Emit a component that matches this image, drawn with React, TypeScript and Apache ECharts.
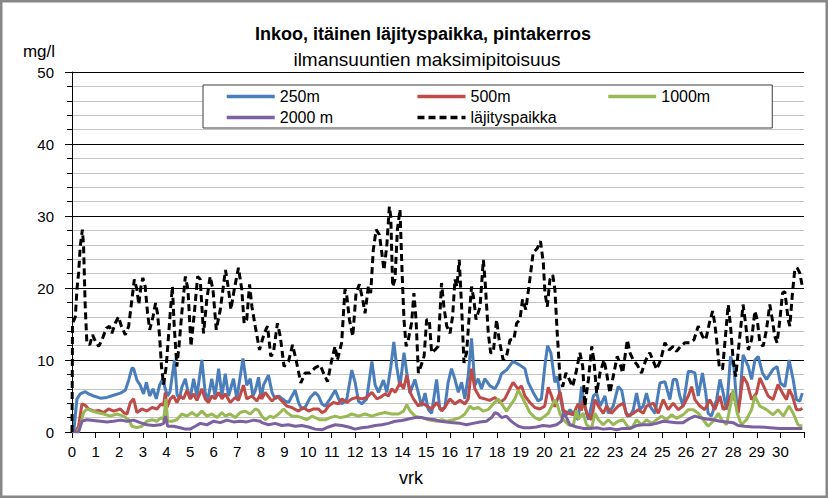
import React, { useEffect, useRef } from 'react';
import * as echarts from 'echarts';

const FONT = "'Liberation Sans', Arial, sans-serif";

const seriesNames = ['250m', '500m', '1000m', '2000 m', 'läjityspaikka'];
const yTicks = [0, 10, 20, 30, 40, 50];
const dayLabels = Array.from({ length: 31 }, (_, i) => String(i));

// [day, mg/l]
const s250: [number, number][] = [
  [0.07,0],[0.21,4.6],[0.35,5.3],[0.56,5.6],[0.70,5.3],[0.92,5.0],[1.20,4.7],[1.48,4.8],[1.76,5.1],[2.05,5.4],[2.26,5.8],[2.40,7.2],[2.54,8.9],[2.61,8.8],[2.75,7.2],[2.89,6.5],[3.03,5.3],[3.15,6.9],[3.29,5.0],[3.43,6.0],[3.57,4.6],[3.71,6.5],[3.85,7.4],[3.95,6.0],[4.05,5.0],[4.15,5.6],[4.34,10.0],[4.45,5.2],[4.55,4.6],[4.65,6.2],[4.80,7.4],[4.90,5.8],[5.00,4.6],[5.15,7.4],[5.29,5.0],[5.50,10.0],[5.64,5.5],[5.74,4.3],[5.92,7.4],[6.06,5.0],[6.21,8.8],[6.35,5.0],[6.49,8.1],[6.63,5.0],[6.84,7.4],[6.98,4.6],[7.24,10.2],[7.40,6.5],[7.55,7.4],[7.66,5.0],[7.76,5.7],[7.90,7.6],
  [8.01,4.6],[8.11,6.5],[8.32,7.9],[8.47,5.5],[8.6,4.6],[8.75,5.0],[9.03,4.3],[9.17,4.1],[9.45,5.8],[9.59,4.1],[9.73,3.2],[9.87,3.4],[10.09,4.8],[10.3,5.5],[10.44,5.0],[10.58,3.9],[10.72,3.6],[10.93,4.6],[11.15,5.8],[11.29,4.6],[11.43,3.9],[11.64,4.6],[11.85,8.6],[11.99,6.9],[12.13,4.3],[12.27,3.9],[12.48,4.6],[12.7,9.8],[12.84,6.5],[12.98,5.5],[13.19,7.2],[13.33,5.5],[13.5,9.0],[13.63,12.5],[13.75,9.1],[13.89,6.3],[14.06,11.0],[14.17,8.4],[14.31,5.4],[14.52,7.3],[14.67,5.4],[14.81,3.6],[14.95,5.4],[15.09,3.1],[15.23,2.6],[15.44,7.3],[15.58,3.1],[15.79,3.4],[15.93,6.9],[16.07,8.8],[16.21,7.4],[16.36,5.5],[16.5,6.9],[16.64,4.6],[16.78,7.9],[16.92,13.0],[17.06,6.5],[17.2,7.4],[17.34,6.0],[17.48,7.4],[17.7,6.4],[17.91,6.0],[18.05,6.8],[18.19,8.1],[18.4,8.6],[18.68,9.8],[18.96,9.3],[19.18,8.8],[19.32,6.9],[19.53,5.5],[19.74,4.3],[19.88,4.6],[20.03,9.3],[20.14,12.0],[20.28,11.0],[20.45,6.9],[20.55,7.7],[20.65,5.4],[20.81,2.6],[20.95,2.4],[21.09,3.1],[21.23,2.6],[21.44,1.7],[21.58,6.3],[21.72,3.6],[21.87,1.7],[22.08,5.0],[22.22,5.4],[22.36,3.6],[22.57,5.0],[22.71,2.6],[22.92,3.6],[23.13,6.3],[23.28,5.8],[23.46,2.6],[23.63,2.2],[23.77,3.1],[23.91,5.4],[24.05,3.1],[24.19,3.6],[24.33,5.4],[24.47,3.6],[24.69,2.6],[24.9,6.8],[25.11,7.0],[25.32,4.5],[25.46,7.3],[25.6,7.3],[25.74,5.0],[25.88,3.6],[26.1,8.4],[26.24,8.4],[26.38,8.2],[26.52,5.0],[26.7,8.2],[26.84,5.4],[26.94,2.6],[27.08,2.2],[27.3,4.5],[27.44,7.3],[27.58,5.4],[27.72,3.1],[27.89,10.5],[28.03,9.1],[28.17,3.1],[28.28,4.5],[28.42,10.7],[28.64,9.1],[28.78,7.3],[28.92,10.0],[29.06,10.5],[29.24,8.2],[29.41,7.3],[29.69,8.7],[29.86,9.1],[30.0,6.8],[30.19,6.3],[30.37,10.0],[30.54,7.3],[30.68,4.5],[30.82,4.3],[30.93,5.4]
];

const s500: [number, number][] = [
  [0.14,0],[0.28,0.8],[0.42,3.9],[0.56,3.7],[0.70,3.2],[0.92,2.9],[1.13,3.0],[1.34,2.7],[1.55,3.2],[1.76,2.9],[2.05,3.2],[2.19,2.7],[2.33,2.5],[2.47,4.1],[2.61,4.6],[2.75,2.7],[2.96,3.2],[3.17,2.9],[3.39,3.4],[3.6,3.2],[3.77,3.9],[3.88,3.7],[3.95,5.5],[4.02,3.4],[4.16,4.6],[4.3,5.0],[4.44,4.1],[4.58,5.0],[4.72,4.6],[4.87,5.8],[5.01,4.6],[5.15,5.3],[5.29,4.4],[5.5,6.0],[5.64,4.6],[5.78,4.1],[5.92,5.0],[6.06,4.6],[6.21,5.5],[6.35,4.6],[6.49,5.3],[6.7,4.1],[6.91,4.8],[7.05,4.4],[7.26,6.5],[7.4,4.6],[7.62,5.0],[7.83,4.3],[7.97,5.2],[8.04,4.6],[8.18,5.5],[8.39,4.6],[8.47,4.3],[8.68,5.0],[8.89,4.3],[9.1,3.6],[9.31,3.4],[9.59,2.9],[9.8,3.4],[10.02,2.9],[10.23,3.2],[10.44,3.2],[10.58,2.7],[10.72,2.9],[10.86,3.6],[11.07,4.1],[11.29,3.9],[11.43,4.6],[11.64,4.1],[11.85,4.6],[12.06,4.8],[12.27,4.6],[12.48,4.8],[12.7,5.5],[12.91,4.6],[13.05,4.8],[13.26,5.3],[13.4,5.0],[13.54,6.0],[13.69,5.5],[13.9,6.9],[14.04,6.0],[14.18,7.9],[14.32,5.5],[14.46,4.6],[14.67,3.6],[14.81,4.1],[15.02,3.6],[15.24,3.2],[15.45,4.1],[15.66,2.9],[15.79,3.4],[16.0,4.6],[16.21,3.9],[16.43,4.4],[16.64,3.9],[16.78,4.6],[16.92,8.8],[17.06,6.0],[17.27,4.8],[17.48,4.6],[17.69,4.4],[17.91,4.8],[18.12,4.1],[18.33,4.6],[18.54,6.0],[18.68,6.9],[18.89,6.0],[19.04,6.4],[19.18,5.0],[19.39,4.1],[19.6,3.4],[19.81,3.2],[20.02,3.6],[20.17,6.2],[20.31,5.0],[20.45,3.5],[20.67,5.6],[20.81,3.0],[21.02,2.6],[21.23,2.4],[21.43,3.9],[21.58,3.0],[21.65,4.5],[21.8,2.6],[22.0,1.7],[22.15,4.5],[22.29,3.6],[22.5,2.6],[22.64,3.6],[22.85,2.6],[23.13,3.6],[23.34,4.0],[23.52,2.2],[23.77,2.6],[23.98,3.1],[24.19,2.6],[24.33,3.6],[24.62,4.0],[24.83,2.6],[25.04,4.5],[25.25,3.1],[25.46,4.0],[25.67,3.1],[25.88,3.6],[26.1,5.0],[26.24,6.3],[26.38,4.5],[26.59,3.6],[26.8,3.1],[27.01,4.5],[27.22,3.1],[27.44,5.0],[27.58,3.1],[27.75,3.6],[27.93,5.4],[28.07,4.5],[28.21,2.6],[28.42,7.7],[28.59,6.8],[28.78,4.5],[28.99,5.4],[29.13,7.5],[29.3,6.3],[29.48,5.0],[29.69,4.5],[29.9,6.6],[30.09,5.4],[30.26,4.5],[30.37,5.9],[30.51,5.0],[30.68,3.1],[30.85,3.1],[30.93,3.3]
];

const s1000: [number, number][] = [
  [0.21,0],[0.35,0.8],[0.49,2.7],[0.63,3.2],[0.85,2.9],[1.06,2.7],[1.34,2.5],[1.62,2.2],[1.9,2.5],[2.19,2.2],[2.4,1.7],[2.54,0.8],[2.75,0.6],[2.96,0.8],[3.17,1.5],[3.39,1.7],[3.6,1.5],[3.77,2.0],[3.88,1.7],[3.98,4.6],[4.05,1.5],[4.23,1.5],[4.44,1.7],[4.65,2.5],[4.87,2.2],[5.08,2.7],[5.29,2.2],[5.5,2.9],[5.71,2.2],[5.92,2.5],[6.14,2.0],[6.35,2.7],[6.49,2.2],[6.7,2.5],[6.91,2.0],[7.12,2.7],[7.33,2.9],[7.55,2.5],[7.76,3.2],[7.9,3.0],[8.04,2.2],[8.18,1.7],[8.39,2.2],[8.54,2.0],[8.75,2.5],[8.96,3.2],[9.1,2.7],[9.31,2.2],[9.52,2.2],[9.73,2.0],[9.95,1.7],[10.16,2.2],[10.3,2.0],[10.51,1.7],[10.72,1.7],[10.93,2.0],[11.15,2.2],[11.36,2.0],[11.64,2.2],[11.85,2.5],[12.13,2.2],[12.41,2.5],[12.7,2.2],[12.98,2.5],[13.26,2.7],[13.54,2.5],[13.83,2.5],[14.04,2.9],[14.18,3.8],[14.32,2.9],[14.53,2.2],[14.81,2.0],[15.1,1.7],[15.45,1.5],[15.66,1.7],[15.86,1.5],[16.15,1.7],[16.43,2.0],[16.64,2.5],[16.85,3.6],[16.99,3.2],[17.2,3.4],[17.41,2.9],[17.62,3.1],[17.84,3.9],[18.05,4.6],[18.26,3.6],[18.4,2.9],[18.61,3.9],[18.75,4.6],[18.9,5.8],[19.04,5.0],[19.18,4.1],[19.39,2.7],[19.6,2.0],[19.81,1.7],[20.02,2.2],[20.17,2.6],[20.3,3.5],[20.45,4.5],[20.55,3.8],[20.67,2.5],[20.81,1.7],[21.02,1.0],[21.23,0.9],[21.36,3.0],[21.45,1.8],[21.65,2.6],[21.79,1.0],[22.0,0.5],[22.15,2.6],[22.29,1.7],[22.5,1.0],[22.71,1.7],[22.92,1.0],[23.13,1.5],[23.34,1.7],[23.52,0.8],[23.7,0.5],[23.91,1.7],[24.12,1.0],[24.33,1.7],[24.55,1.2],[24.76,1.7],[24.97,2.2],[25.18,1.7],[25.39,2.4],[25.6,1.9],[25.88,2.4],[26.1,3.1],[26.31,3.1],[26.52,2.6],[26.73,1.7],[26.94,0.8],[27.15,1.5],[27.37,2.6],[27.51,1.7],[27.72,1.0],[27.9,4.0],[28.0,5.9],[28.17,2.6],[28.35,1.0],[28.56,1.7],[28.78,3.1],[28.92,5.0],[29.13,3.6],[29.41,3.1],[29.69,2.4],[29.9,3.1],[30.12,2.2],[30.37,3.6],[30.54,2.6],[30.75,1.0],[30.93,0.8]
];

const s2000: [number, number][] = [
  [0,0],[0.28,0],[0.42,1.5],[0.63,1.7],[0.92,1.6],[1.2,1.5],[1.48,1.4],[1.76,1.5],[2.05,1.65],[2.33,1.5],[2.61,1.65],[2.89,1.3],[3.17,1.0],[3.46,0.9],[3.74,1.0],[3.88,1.2],[3.96,2.2],[4.05,0.8],[4.3,0.8],[4.58,0.6],[4.8,0.4],[5.0,0.4],[5.22,0.8],[5.43,1.2],[5.71,1.0],[6.0,1.5],[6.28,1.3],[6.56,1.65],[6.84,1.4],[7.12,1.5],[7.4,1.4],[7.69,1.65],[7.97,1.5],[8.04,1.3],[8.32,1.0],[8.6,1.2],[8.89,0.9],[9.17,1.0],[9.45,0.8],[9.73,0.9],[10.02,0.7],[10.3,0.4],[10.58,0.3],[10.86,0.7],[11.15,1.0],[11.43,0.9],[11.71,0.7],[11.99,0.4],[12.27,0.6],[12.55,0.7],[12.84,0.9],[13.12,1.0],[13.4,1.2],[13.69,1.5],[13.97,1.6],[14.25,1.8],[14.53,2.0],[14.81,2.0],[15.1,1.8],[15.38,1.7],[15.58,1.5],[15.86,1.4],[16.15,1.3],[16.43,1.2],[16.71,1.0],[16.99,1.2],[17.27,1.4],[17.55,1.5],[17.77,2.0],[17.91,2.7],[18.05,2.5],[18.19,2.0],[18.4,2.2],[18.54,1.7],[18.68,1.3],[18.9,0.8],[19.11,0.6],[19.39,0.6],[19.67,0.7],[19.95,0.9],[20.24,0.8],[20.52,1.0],[20.73,1.5],[20.81,2.6],[20.94,2.0],[21.09,1.0],[21.37,0.7],[21.65,0.5],[21.93,0.5],[22.22,0.6],[22.5,0.4],[22.78,0.5],[23.06,0.3],[23.34,0.5],[23.63,0.5],[23.91,0.9],[24.19,1.0],[24.47,1.0],[24.76,1.2],[25.04,1.5],[25.32,1.4],[25.6,1.3],[25.88,1.3],[26.17,1.9],[26.38,2.2],[26.59,2.0],[26.87,1.8],[27.15,1.7],[27.44,1.5],[27.72,1.4],[28.0,1.3],[28.21,0.9],[28.49,0.8],[28.85,0.7],[29.13,0.7],[29.55,0.6],[29.98,0.5],[30.4,0.5],[30.93,0.5]
];

const sLaji: [number, number][] = [
  [0.0,0],[0.02,15.1],[0.14,16.0],[0.21,19.8],[0.28,22.1],[0.35,25.8],[0.44,28.1],[0.49,25.8],[0.56,17.4],[0.63,12.4],[0.75,12.1],[0.87,13.5],[0.99,12.6],[1.13,11.9],[1.27,12.8],[1.45,14.4],[1.59,14.7],[1.69,13.7],[1.83,15.1],[1.97,16.0],[2.09,14.7],[2.26,13.5],[2.4,14.7],[2.5,17.4],[2.64,21.2],[2.75,19.8],[2.83,17.7],[2.92,20.2],[3.0,21.4],[3.1,20.2],[3.2,16.5],[3.29,14.2],[3.43,16.0],[3.54,17.9],[3.62,16.5],[3.71,13.3],[3.79,9.1],[3.88,6.6],[3.99,9.1],[4.16,16.5],[4.25,20.2],[4.33,14.7],[4.44,9.1],[4.53,11.9],[4.65,16.5],[4.8,21.6],[4.91,19.8],[5.04,11.9],[5.18,16.5],[5.32,21.6],[5.43,21.2],[5.57,13.7],[5.71,18.4],[5.85,21.6],[5.97,19.8],[6.11,14.2],[6.28,17.0],[6.5,22.5],[6.63,19.8],[6.73,17.0],[6.87,19.8],[7.05,22.8],[7.19,19.8],[7.29,15.1],[7.4,15.6],[7.52,20.5],[7.62,17.4],[7.76,14.7],[7.94,11.4],[8.14,13.7],[8.28,14.7],[8.42,10.5],[8.53,11.0],[8.7,15.1],[8.82,13.3],[8.98,9.1],[9.17,9.8],[9.34,12.1],[9.49,10.0],[9.69,6.8],
  [9.87,8.2],[10.08,8.2],[10.29,8.9],[10.51,9.3],[10.65,8.2],[10.82,7.0],[11.0,10.0],[11.14,11.9],[11.24,10.0],[11.42,12.4],[11.56,19.8],[11.63,19.1],[11.75,15.6],[11.89,13.3],[12.03,19.3],[12.17,20.5],[12.31,18.4],[12.41,16.5],[12.55,20.2],[12.65,19.3],[12.76,25.3],[12.88,28.1],[13.02,27.4],[13.12,24.9],[13.21,22.5],[13.33,25.8],[13.44,31.3],[13.5,29.9],[13.58,20.2],[13.68,21.2],[13.78,28.1],[13.89,30.9],[13.98,22.1],[14.06,15.6],[14.15,11.9],[14.24,12.8],[14.38,15.1],[14.48,19.3],[14.57,15.6],[14.67,8.2],[14.77,9.1],[14.91,10.5],[15.02,15.6],[15.13,15.6],[15.23,11.0],[15.37,11.4],[15.51,11.9],[15.65,20.7],[15.75,17.4],[15.87,14.7],[16.01,13.7],[16.12,16.1],[16.22,21.2],[16.3,20.2],[16.4,23.9],[16.5,17.4],[16.6,9.6],[16.71,11.0],[16.83,16.5],[16.92,20.2],[17.02,18.4],[17.11,15.6],[17.28,17.4],[17.42,23.9],[17.49,21.2],[17.63,13.7],[17.73,11.0],[17.84,11.0],[17.98,15.6],[18.09,12.8],[18.26,10.0],[18.4,10.5],[18.55,12.8],[18.71,12.8],[18.83,15.1],[18.97,15.6],[19.08,18.4],[19.22,17.0],[19.39,21.2],[19.53,24.9],[19.7,25.5],[19.84,26.5],[19.96,23.5],
  [20.03,19.3],[20.13,17.4],[20.24,21.2],[20.36,21.8],[20.45,19.8],[20.55,13.7],[20.67,7.3],[20.78,6.3],[20.92,8.2],[21.06,7.3],[21.2,6.3],[21.34,8.2],[21.51,11.0],[21.63,9.1],[21.72,3.6],[21.87,7.3],[22.01,11.9],[22.1,10.0],[22.22,5.4],[22.36,8.2],[22.53,10.0],[22.64,8.2],[22.78,5.4],[22.95,8.2],[23.09,10.5],[23.2,9.6],[23.32,8.2],[23.42,10.5],[23.52,12.8],[23.63,11.0],[23.77,10.0],[23.94,9.3],[24.12,8.2],[24.3,10.0],[24.47,11.0],[24.62,9.8],[24.76,8.7],[24.93,10.0],[25.11,12.4],[25.29,11.4],[25.46,11.9],[25.6,11.2],[25.77,11.9],[25.96,12.4],[26.17,12.4],[26.34,12.8],[26.52,14.7],[26.7,13.3],[26.84,12.8],[26.99,15.1],[27.13,16.8],[27.22,15.1],[27.3,12.8],[27.41,9.1],[27.55,8.7],[27.66,12.8],[27.79,17.7],[27.89,14.7],[28.0,10.0],[28.11,7.7],[28.21,11.0],[28.31,14.2],[28.42,17.7],[28.54,14.7],[28.64,11.4],[28.78,12.8],[28.92,16.8],[29.02,15.6],[29.13,12.4],[29.27,11.9],[29.41,14.2],[29.55,17.7],[29.66,15.6],[29.76,13.3],[29.86,12.4],[29.98,15.6],[30.09,19.3],[30.19,19.5],[30.33,15.6],[30.4,14.7],[30.51,19.3],[30.61,22.5],[30.71,22.8],[30.82,22.1],[30.93,20.2]
];

const seriesData = [s250, s500, s1000, s2000, sLaji];
const colors = ['#4a7ebb', '#be4b48', '#98b954', '#7d60a0', '#000000'];
const legendTextWidths = [136, 136, 70, 136, 110];

export default function App() {
  const ref = useRef<HTMLDivElement>(null);

  useEffect(() => {
    if (!ref.current) return;
    const chart = echarts.init(ref.current, undefined, { renderer: 'svg' });

    const series = seriesNames.map((name, i) => ({
      name,
      type: 'line',
      data: seriesData[i],
      showSymbol: false,
      symbol: 'none',
      smooth: false,
      z: 2 + i,
      lineStyle: {
        color: colors[i],
        width: 3,
        type: i === 4 ? [7, 4] : 'solid',
      },
      itemStyle: { color: colors[i] },
    }));

    chart.setOption({
      animation: false,
      backgroundColor: '#ffffff',
      textStyle: { fontFamily: FONT },
      grid: { left: 72, right: 24, top: 72, bottom: 66, containLabel: false },
      legend: {
        left: 203,
        top: 85,
        width: 516,
        orient: 'horizontal',
        padding: [1, 41, 0, 22],
        itemGap: 0,
        itemWidth: 48,
        itemHeight: 14,
        backgroundColor: '#ffffff',
        borderColor: '#3c3c3c',
        borderWidth: 1,
        borderRadius: 0,
        selectedMode: false,
        itemStyle: { opacity: 0 },
        lineStyle: { width: 3.5 },
        textStyle: { fontFamily: FONT, fontSize: 16, color: '#000', lineHeight: 21 },
        data: seriesNames.map((name, i) => ({
          name,
          textStyle: { width: legendTextWidths[i] },
        })),
      },
      xAxis: {
        type: 'value',
        min: 0,
        max: 31,
        interval: 1,
        axisLine: { show: true, onZero: false, lineStyle: { color: '#000', width: 1 } },
        axisTick: { show: true, length: 6, lineStyle: { color: '#000' } },
        axisLabel: {
          margin: 12,
          fontSize: 15,
          color: '#000',
          fontFamily: FONT,
          formatter: (v: number) => (v < dayLabels.length ? dayLabels[v] : ''),
        },
        splitLine: { show: false },
      },
      yAxis: {
        type: 'value',
        min: yTicks[0],
        max: yTicks[yTicks.length - 1],
        interval: 10,
        axisLine: { show: true, lineStyle: { color: '#000', width: 1 } },
        axisTick: { show: true, length: 7, lineStyle: { color: '#000' } },
        minorTick: { show: true, splitNumber: 5, length: 5, lineStyle: { color: '#000' } },
        splitLine: { show: true, lineStyle: { color: '#000', width: 1 } },
        minorSplitLine: { show: true, lineStyle: { color: '#c4c4c4', width: 1 } },
        axisLabel: { margin: 18, fontSize: 15, color: '#000', fontFamily: FONT },
      },
      graphic: [
        {
          type: 'rect',
          shape: { x: 1.25, y: 1.25, width: 825.5, height: 495.5 },
          style: { fill: 'none', stroke: '#878787', lineWidth: 2.5 },
          silent: true,
          z: 100,
        },
        {
          type: 'text',
          x: 423,
          y: 34,
          style: {
            text: 'Inkoo, itäinen läjityspaikka, pintakerros',
            fontFamily: FONT,
            fontSize: 18,
            fontWeight: 'bold',
            fill: '#000',
            textAlign: 'center',
            textVerticalAlign: 'middle',
          },
        },
        {
          type: 'text',
          x: 427,
          y: 59,
          style: {
            text: 'ilmansuuntien maksimipitoisuus',
            fontFamily: FONT,
            fontSize: 19,
            fill: '#000',
            textAlign: 'center',
            textVerticalAlign: 'middle',
          },
        },
        {
          type: 'text',
          x: 39,
          y: 51,
          style: {
            text: 'mg/l',
            fontFamily: FONT,
            fontSize: 17,
            fill: '#000',
            textAlign: 'center',
            textVerticalAlign: 'middle',
          },
        },
        {
          type: 'text',
          x: 411,
          y: 478,
          style: {
            text: 'vrk',
            fontFamily: FONT,
            fontSize: 18,
            fill: '#000',
            textAlign: 'center',
            textVerticalAlign: 'middle',
          },
        },
      ],
      series,
    });

    return () => chart.dispose();
  }, []);

  return (
    <div
      ref={ref}
      style={{ position: 'absolute', left: 0, top: 0, width: 828, height: 498 }}
    />
  );
}
